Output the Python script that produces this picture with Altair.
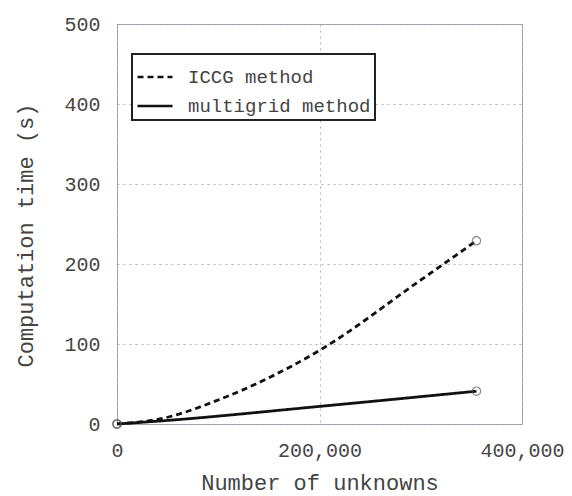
import altair as alt
import pandas as pd

# Data
iccg_x = [0, 45000, 100000, 200000, 300000, 355000]
iccg_y = [0, 7, 30, 92, 180, 229]
mg_x = [0, 45000, 200000, 355000]
mg_y = [0, 4, 22, 41]
x_ticks = [0, 200000, 400000]
y_ticks = [0, 100, 200, 300, 400, 500]

series_names = ["ICCG method", "multigrid method"]

df = pd.concat([
    pd.DataFrame({"n": iccg_x, "t": iccg_y, "method": series_names[0]}),
    pd.DataFrame({"n": mg_x, "t": mg_y, "method": series_names[1]}),
], ignore_index=True)

# end markers: first and last point of each series
ends = pd.concat([
    df.groupby("method").head(1),
    df.groupby("method").tail(1),
], ignore_index=True)

FONT = "Liberation Mono"
TXT = "#444"

x_enc = alt.X(
    "n:Q",
    scale=alt.Scale(domain=[0, 400000], nice=False),
    axis=alt.Axis(
        values=x_ticks, labelExpr="format(datum.value, ',')", title="Number of unknowns",
        labelFont=FONT, labelFontSize=20, labelColor=TXT,
        labelBaseline="middle", labelPadding=26, ticks=False,
        labelFlush=False,
        titleFont=FONT, titleFontSize=22, titleColor=TXT, titleFontWeight="normal",
        titleBaseline="middle", titleY=58,
        domain=False, gridColor="#8890b0", gridDash=[2, 4], gridOpacity=0.7,
    ),
)
y_enc = alt.Y(
    "t:Q",
    scale=alt.Scale(domain=[0, 500], nice=False),
    axis=alt.Axis(
        values=y_ticks, title="Computation time (s)",
        labelFont=FONT, labelFontSize=20, labelColor=TXT,
        labelPadding=17, ticks=False,
        titleFont=FONT, titleFontSize=22, titleColor=TXT, titleFontWeight="normal",
        titleX=-92, titleY=211, titleBaseline="middle",
        domain=False, gridColor="#8890b0", gridDash=[2, 4], gridOpacity=0.7,
    ),
)

lines = alt.Chart(df).mark_line(color="#111", strokeWidth=2.8, interpolate="monotone").encode(
    x=x_enc,
    y=y_enc,
    strokeDash=alt.StrokeDash(
        "method:N",
        scale=alt.Scale(domain=series_names, range=[[6, 4], [1, 0]]),
        legend=alt.Legend(
            title=None, orient="none", legendX=15, legendY=30,
            labelFont=FONT, labelFontSize=19, labelColor=TXT, labelLimit=400,
            symbolType="stroke", symbolSize=1225, symbolStrokeWidth=2.5,
            symbolStrokeColor="#111", rowPadding=-13,
            padding=4, strokeColor="#222", fillColor="white", labelOffset=14,
        ),
    ),
)

points = alt.Chart(ends).mark_point(
    shape="circle", filled=False, color="#555", size=70, strokeWidth=1.2
).encode(x=x_enc, y=y_enc)

chart = (lines + points).properties(
    width=405, height=400,
    padding={"left": 109, "top": 16, "right": 42, "bottom": 72},
    autosize=alt.AutoSizeParams(type="none"),
).configure_view(stroke="#aaa", strokeWidth=1).configure_legend(strokeWidth=2)

chart.save("out.html", embed_options={"renderer": "svg", "actions": False})
